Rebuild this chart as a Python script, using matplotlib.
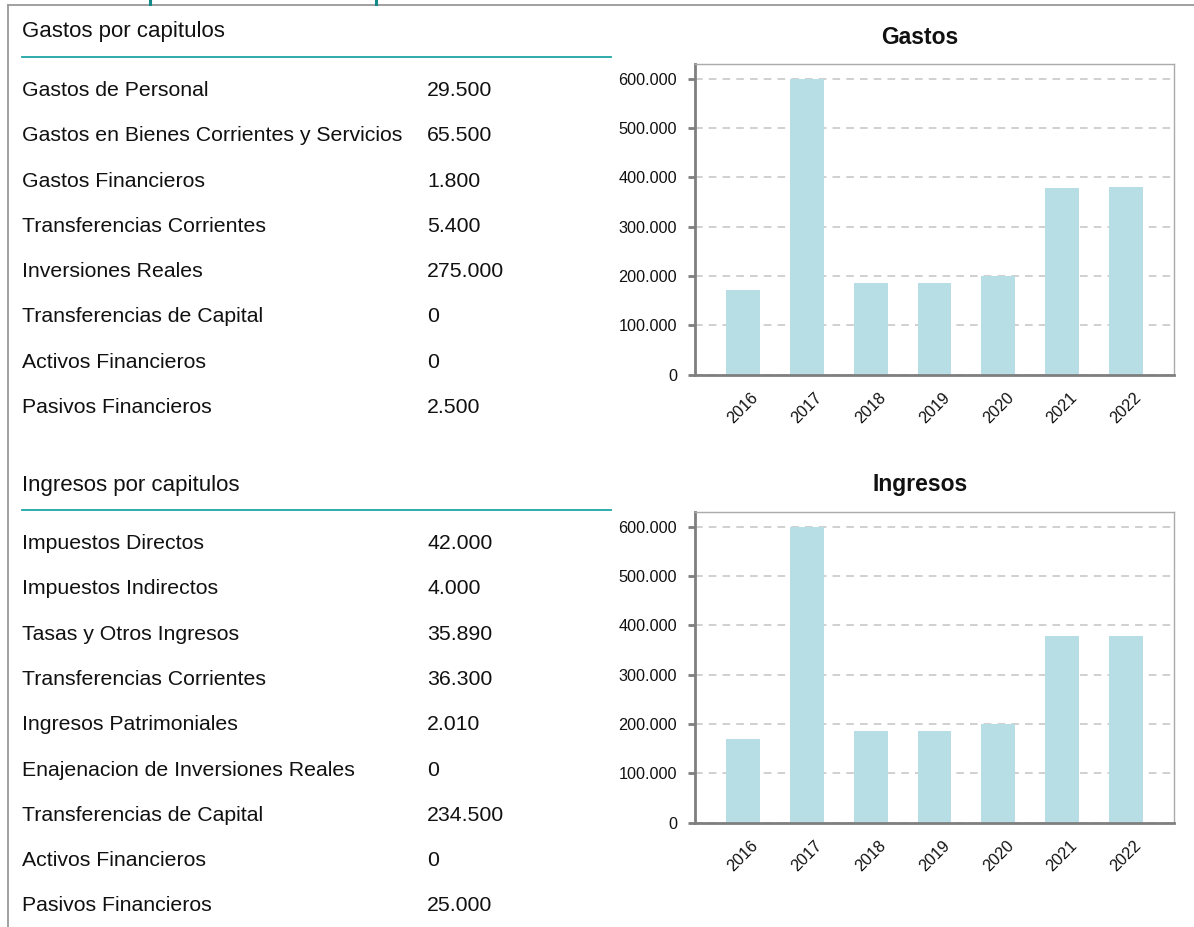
import matplotlib
matplotlib.use("Agg")
import numpy as np
from matplotlib import pyplot as plt
from matplotlib.lines import Line2D
from matplotlib.ticker import FuncFormatter, MultipleLocator

# Data
years = ["2016", "2017", "2018", "2019", "2020", "2021", "2022"]
gastos_totales = [172000, 600000, 186000, 186000, 200000, 379000, 381000]
ingresos_totales = [170000, 600000, 186000, 186000, 200000, 379000, 379000]

gastos_capitulos = [
    "Gastos de Personal",
    "Gastos en Bienes Corrientes y Servicios",
    "Gastos Financieros",
    "Transferencias Corrientes",
    "Inversiones Reales",
    "Transferencias de Capital",
    "Activos Financieros",
    "Pasivos Financieros",
]
gastos_valores = [29500, 65500, 1800, 5400, 275000, 0, 0, 2500]

ingresos_capitulos = [
    "Impuestos Directos",
    "Impuestos Indirectos",
    "Tasas y Otros Ingresos",
    "Transferencias Corrientes",
    "Ingresos Patrimoniales",
    "Enajenacion de Inversiones Reales",
    "Transferencias de Capital",
    "Activos Financieros",
    "Pasivos Financieros",
]
ingresos_valores = [42000, 4000, 35890, 36300, 2010, 0, 234500, 0, 25000]

plt.rcParams["font.family"] = ["Liberation Sans", "DejaVu Sans"]

W, H = 1194, 927
text_color = "#111111"
teal = "#1ca6a6"
bar_color = "#b7dde5"
frame_gray = "#999999"


def miles(v, pos=None):
    # thousands separator with a dot, spanish style
    return f"{int(v):,}".replace(",", ".")


fig = plt.figure(figsize=(W / 100, H / 100), dpi=100)


def fx(px):
    return px / W


def fy(py):
    return 1 - py / H


# outer frame of the page (top and left edges) and the cut-off heading above it
fig.add_artist(Line2D([fx(8), 1], [fy(4.5), fy(4.5)], color=frame_gray, lw=1.3))
fig.add_artist(Line2D([fx(8), fx(8)], [fy(4.5), 0], color=frame_gray, lw=1.3))
for xp in (150, 376):
    fig.add_artist(Line2D([fx(xp), fx(xp)], [1, fy(3.5)], color="#138a8a", lw=2.2))


# left hand tables
def tabla(titulo, y_titulo, y_linea, y_primera, capitulos, valores):
    fig.text(fx(22), fy(y_titulo), titulo, fontsize=16, color=text_color, va="center")
    fig.add_artist(Line2D([fx(22), fx(611)], [fy(y_linea), fy(y_linea)], color=teal, lw=1.3))
    for i, (nombre, valor) in enumerate(zip(capitulos, valores)):
        y = y_primera + i * 45.3
        fig.text(fx(22), fy(y), nombre, fontsize=15.3, color=text_color, va="center")
        fig.text(fx(427), fy(y), miles(valor), fontsize=15.3, color=text_color, va="center")


tabla("Gastos por capitulos", 31.5, 56.5, 90.5, gastos_capitulos, gastos_valores)
tabla("Ingresos por capitulos", 485.5, 510, 543.5, ingresos_capitulos, ingresos_valores)


# bar charts on the right
def grafico(rect, titulo, y_titulo, valores):
    ax = fig.add_axes(rect)
    x = np.arange(len(years))
    ax.bar(x, valores, width=0.53, color=bar_color, zorder=2)
    ax.set_xlim(-0.75, len(years) - 0.25)
    ax.set_ylim(0, 630000)
    ax.yaxis.set_major_locator(MultipleLocator(100000))
    ax.yaxis.set_major_formatter(FuncFormatter(miles))
    ax.set_xticks(x)
    ax.set_xticklabels(years, rotation=45, ha="center", va="top")
    ax.grid(axis="y", color="#c4c4c4", linestyle=(0, (5, 4)), lw=1.1, zorder=0)
    ax.tick_params(axis="y", length=5, width=2, color="#7f7f7f", pad=8,
                   labelsize=11.7, labelcolor=text_color)
    ax.tick_params(axis="x", length=0, pad=11, labelsize=11.7, labelcolor=text_color)
    for s in ("left", "bottom"):
        ax.spines[s].set_color("#7f7f7f")
        ax.spines[s].set_linewidth(2)
    for s in ("top", "right"):
        ax.spines[s].set_color("#aaaaaa")
        ax.spines[s].set_linewidth(1)
    fig.text(fx(920), fy(y_titulo), titulo, fontsize=16.5, fontweight="bold",
             color=text_color, ha="center", va="center")
    return ax


grafico([fx(695), fy(374.5), fx(479), 310.5 / H], "Gastos", 38, gastos_totales)
grafico([fx(695), fy(822.7), fx(479), 310.7 / H], "Ingresos", 485, ingresos_totales)

fig.savefig("out.png", dpi=100)
